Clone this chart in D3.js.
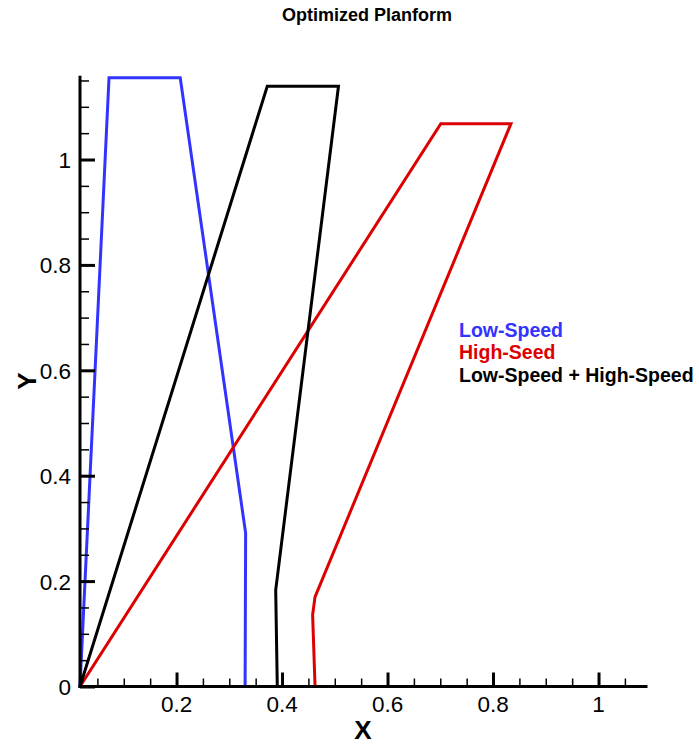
<!DOCTYPE html>
<html>
<head>
<meta charset="utf-8">
<script src="https://cdn.jsdelivr.net/npm/d3@7"></script>
<style>
  html, body { margin: 0; padding: 0; background: #fff; }
  svg { display: block; font-family: "Liberation Sans", Arial, Helvetica, sans-serif; }
</style>
</head>
<body>
<svg id="chart" width="699" height="744"></svg>
<script>
// Planform outlines: x (chordwise) and y (spanwise) coordinates, in order around the outline
const lowSpeedX  = [0.017, 0.072, 0.207, 0.331, 0.330];
const lowSpeedY  = [0.000, 1.155, 1.155, 0.291, 0.000];

const highSpeedX = [0.017, 0.701, 0.834, 0.4626, 0.458, 0.4626];
const highSpeedY = [0.000, 1.068, 1.068, 0.170, 0.136, 0.000];

const combinedX  = [0.017, 0.372, 0.507, 0.388, 0.391];
const combinedY  = [0.000, 1.139, 1.139, 0.183, 0.000];

const seriesNames  = ["Low-Speed", "High-Seed", "Low-Speed + High-Speed"];
const seriesColors = ["#3333ff", "#dd0000", "#000000"];

const xTickValues = [0.2, 0.4, 0.6, 0.8, 1];
const yTickValues = [0, 0.2, 0.4, 0.6, 0.8, 1];
const xMinorValues = d3.range(1, 22).map(i => +(i * 0.05).toFixed(2)).filter(v => !xTickValues.includes(v));
const yMinorValues = d3.range(1, 24).map(i => +(i * 0.05).toFixed(2)).filter(v => !yTickValues.includes(v));

const svg = d3.select("#chart");

const x = d3.scaleLinear().domain([0.017, 1.09]).range([80, 646]);
const y = d3.scaleLinear().domain([0, 1.156]).range([686.5, 77.3]);

// Title
svg.append("text")
  .attr("x", 367).attr("y", 21)
  .attr("text-anchor", "middle")
  .attr("font-size", 18).attr("font-weight", "bold")
  .text("Optimized Planform");

// Outlines
const series = [
  { xs: lowSpeedX, ys: lowSpeedY },
  { xs: highSpeedX, ys: highSpeedY },
  { xs: combinedX, ys: combinedY }
];
const line = d3.line().x(d => x(d[0])).y(d => y(d[1]));
series.forEach((s, i) => {
  const pts = s.xs.map((v, j) => [v, s.ys[j]]);
  svg.append("path")
    .attr("d", line(pts))
    .attr("fill", "none")
    .attr("stroke", seriesColors[i])
    .attr("stroke-width", 3)
    .attr("stroke-linejoin", "miter");
});

// Axes: ticks point inward
const xAxisG = svg.append("g").attr("transform", `translate(0,${y(0)})`);
xAxisG.call(d3.axisTop(x).tickValues(xMinorValues).tickSize(8).tickFormat(""))
  .call(g => g.selectAll("line").attr("stroke-width", 1.5))
  .call(g => g.select(".domain").remove());
const xMajor = svg.append("g").attr("transform", `translate(0,${y(0)})`);
xMajor.call(d3.axisTop(x).tickValues(xTickValues).tickSize(14).tickFormat(""))
  .call(g => g.selectAll("line").attr("stroke-width", 3))
  .call(g => g.select(".domain").remove());

const yAxisG = svg.append("g").attr("transform", `translate(${x(0.017)},0)`);
yAxisG.call(d3.axisRight(y).tickValues(yMinorValues).tickSize(9).tickFormat(""))
  .call(g => g.selectAll("line").attr("stroke-width", 1.5))
  .call(g => g.select(".domain").remove());
const yMajor = svg.append("g").attr("transform", `translate(${x(0.017)},0)`);
yMajor.call(d3.axisRight(y).tickValues(yTickValues).tickSize(15).tickFormat(""))
  .call(g => g.selectAll("line").attr("stroke-width", 3))
  .call(g => g.select(".domain").remove());

// Tick labels
svg.append("g").selectAll("text").data(xTickValues).enter().append("text")
  .attr("x", d => x(d)).attr("y", y(0) + 25)
  .attr("text-anchor", "middle")
  .attr("font-size", 22.5).attr("fill", "#000")
  .text(d => d3.format("")(d));
svg.append("g").selectAll("text").data(yTickValues).enter().append("text")
  .attr("x", 71).attr("y", d => y(d) + 8.5)
  .attr("text-anchor", "end")
  .attr("font-size", 22.5).attr("fill", "#000")
  .text(d => d3.format("")(d));

// Axis lines
svg.append("line")
  .attr("x1", x(0.017)).attr("x2", x(1.09))
  .attr("y1", y(0)).attr("y2", y(0))
  .attr("stroke", "#000").attr("stroke-width", 3).attr("stroke-linecap", "square");
svg.append("line")
  .attr("x1", x(0.017)).attr("x2", x(0.017))
  .attr("y1", y(0)).attr("y2", y(1.156))
  .attr("stroke", "#000").attr("stroke-width", 3).attr("stroke-linecap", "square");

// Axis titles
svg.append("text")
  .attr("x", 363).attr("y", 739)
  .attr("text-anchor", "middle")
  .attr("font-size", 26).attr("font-weight", "bold")
  .text("X");
svg.append("text")
  .attr("transform", "translate(36,381) rotate(-90)")
  .attr("text-anchor", "middle")
  .attr("font-size", 26).attr("font-weight", "bold")
  .text("Y");

// Legend
const legend = svg.append("g").attr("transform", "translate(459,336.5)");
seriesNames.forEach((name, i) => {
  legend.append("text")
    .attr("x", 0).attr("y", i * 22.5)
    .attr("font-size", 19.5).attr("font-weight", "bold")
    .attr("fill", seriesColors[i])
    .text(name);
});
</script>
</body>
</html>
